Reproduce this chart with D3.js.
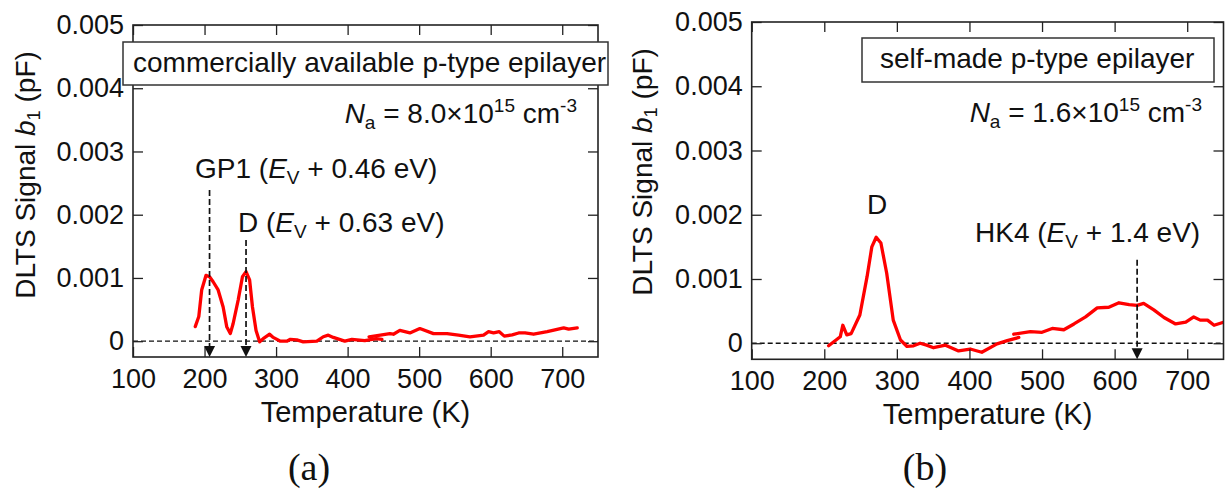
<!DOCTYPE html>
<html>
<head>
<meta charset="utf-8">
<script src="https://cdn.jsdelivr.net/npm/d3@7"></script>
<style>
  body { margin: 0; background: #fff; }
  svg text { font-family: "Liberation Sans", Arial, Helvetica, sans-serif; fill: #111; }
</style>
</head>
<body>
<svg id="fig" width="1227" height="491"></svg>
<script>
// ---- axis ticks ----
const tempTicks = [100, 200, 300, 400, 500, 600, 700];
const tempMinorTicks = d3.range(100, 751, 20);
const signalTicks = [0, 0.001, 0.002, 0.003, 0.004, 0.005];
const signalTickLabels = ["0", "0.001", "0.002", "0.003", "0.004", "0.005"];
const signalMinorTicks = [0, 0.0005, 0.001, 0.0015, 0.002, 0.0025, 0.003, 0.0035, 0.004, 0.0045, 0.005];

// ---- (a) commercially available p-type epilayer ----
// low-temperature sweep
const commLowT = [187, 192, 196, 202, 207, 212, 219, 226, 231, 236, 240, 247, 253, 258, 263, 267, 272, 277, 282, 291, 296, 306, 315, 320, 329, 338, 357, 366, 373, 380, 396, 406, 424, 440, 448];
const commLowS = [0.00023, 0.00039, 0.00081, 0.00104, 0.00102, 0.00094, 0.00081, 0.00054, 0.00023, 0.00012, 0.00028, 0.00065, 0.00102, 0.00110, 0.00097, 0.00054, 0.00017, -0.00001, 0.00004, 0.00011, 0.00006, 0.0, 0.0, 0.00003, 0.00002, -0.00001, 0.0, 0.00007, 0.000095, 0.00006, 0.0, 0.00003, 0.00001, 0.00004, 0.00003];
// high-temperature sweep
const commHighT = [430, 448, 459, 464, 473, 487, 501, 520, 539, 555, 571, 590, 597, 604, 612, 619, 630, 639, 648, 660, 679, 702, 709, 721];
const commHighS = [0.00007, 0.0001, 0.00012, 0.00011, 0.00017, 0.00013, 0.0002, 0.00012, 0.00012, 0.000095, 0.00007, 0.000095, 0.00015, 0.00013, 0.00015, 0.00008, 0.0001, 0.00013, 0.00013, 0.00011, 0.00015, 0.00021, 0.00019, 0.00021];

// ---- (b) self-made p-type epilayer ----
const selfLowT = [206, 222, 225.5, 231, 237, 249, 259, 265.5, 271.5, 278, 286, 295, 305, 314, 323, 332, 341, 350.5, 367, 385, 401, 417, 438, 452, 468];
const selfLowS = [-0.00004, 0.0001, 0.00028, 0.00013, 0.00015, 0.00044, 0.00104, 0.0015, 0.00165, 0.00156, 0.00109, 0.00036, 0.00005, -0.00005, -0.00004, 0.0, -0.00003, -0.00007, -0.00003, -0.00012, -0.00009, -0.00014, -0.00001, 0.00004, 0.00009];
const selfHighT = [461, 484, 500, 514, 530, 544, 560, 576, 592, 606, 620, 631, 640, 654, 668, 684, 698, 709, 718, 728, 737, 751];
const selfHighS = [0.00014, 0.00018, 0.00017, 0.00023, 0.00021, 0.0003, 0.00041, 0.00055, 0.00056, 0.00063, 0.0006, 0.00059, 0.00062, 0.00052, 0.0004, 0.0003, 0.00033, 0.00041, 0.00036, 0.00036, 0.00028, 0.00033];

// ---- trap markers: temperature and top of the dashed arrow (pF) ----
const commTrapT = [207, 258];
const commTrapTop = [0.00239, 0.0016];
const selfTrapT = [631];
const selfTrapTop = [0.0013];

const svg = d3.select("#fig");
const FS_TICK = 27;
const FS = 28;

function zip(ts, ss) { return ts.map((t, i) => ({ t, s: ss[i] })); }

function drawPanel(p) {
  const g = svg.append("g");
  const x = d3.scaleLinear().domain([100, 750]).range([p.left, p.right]);
  const y = d3.scaleLinear().domain([-0.00025, 0.005]).range([p.bottom, p.top]);

  const clipId = "clip-" + p.id;
  g.append("clipPath").attr("id", clipId)
    .append("rect").attr("x", p.left).attr("y", p.top)
    .attr("width", p.right - p.left).attr("height", p.bottom - p.top);

  // zero reference line
  g.append("line")
    .attr("x1", p.left).attr("x2", p.right)
    .attr("y1", y(0)).attr("y2", y(0))
    .attr("stroke", "#111").attr("stroke-width", 1.3)
    .attr("stroke-dasharray", "5,3");

  // DLTS curves
  const line = d3.line().x(d => x(d.t)).y(d => y(d.s));
  p.series.forEach(s => {
    g.append("path").datum(s)
      .attr("clip-path", `url(#${clipId})`)
      .attr("d", line)
      .attr("fill", "none").attr("stroke", "#ff0000")
      .attr("stroke-width", 3.3).attr("stroke-linejoin", "round").attr("stroke-linecap", "round");
  });

  // axes: ticks point inward on all four sides
  const axB = g.append("g").attr("transform", `translate(0,${p.bottom})`);
  axB.call(d3.axisBottom(x).tickValues(tempMinorTicks).tickFormat("").tickSizeInner(-5).tickSizeOuter(0));
  axB.call(d3.axisBottom(x).tickValues(tempTicks).tickSizeInner(-10).tickSizeOuter(0).tickPadding(12));
  const axT = g.append("g").attr("transform", `translate(0,${p.top})`);
  axT.call(d3.axisTop(x).tickValues(tempMinorTicks).tickFormat("").tickSizeInner(-5).tickSizeOuter(0));
  axT.call(d3.axisTop(x).tickValues(tempTicks).tickFormat("").tickSizeInner(-10).tickSizeOuter(0));
  const axL = g.append("g").attr("transform", `translate(${p.left},0)`);
  axL.call(d3.axisLeft(y).tickValues(signalMinorTicks).tickFormat("").tickSizeInner(-5).tickSizeOuter(0));
  axL.call(d3.axisLeft(y).tickValues(signalTicks).tickFormat((d, i) => signalTickLabels[i]).tickSizeInner(-10).tickSizeOuter(0).tickPadding(9));
  const axR = g.append("g").attr("transform", `translate(${p.right},0)`);
  axR.call(d3.axisRight(y).tickValues(signalMinorTicks).tickFormat("").tickSizeInner(-5).tickSizeOuter(0));
  axR.call(d3.axisRight(y).tickValues(signalTicks).tickFormat("").tickSizeInner(-10).tickSizeOuter(0));
  g.selectAll(".domain").remove();
  g.selectAll(".tick line").attr("stroke", "#222").attr("stroke-width", 1.3);
  g.selectAll(".tick text").attr("font-size", FS_TICK).attr("font-family", null).attr("fill", "#111");

  // frame
  g.append("rect")
    .attr("x", p.left).attr("y", p.top)
    .attr("width", p.right - p.left).attr("height", p.bottom - p.top)
    .attr("fill", "none").attr("stroke", "#222").attr("stroke-width", 1.6);

  // trap arrows
  p.traps.forEach(tr => {
    const xa = x(tr.t);
    g.append("line")
      .attr("x1", xa).attr("x2", xa)
      .attr("y1", y(tr.top)).attr("y2", p.bottom - 10)
      .attr("stroke", "#111").attr("stroke-width", 1.7)
      .attr("stroke-dasharray", "6,3");
    g.append("path")
      .attr("d", `M${xa - 5.5},${p.bottom - 11} L${xa + 5.5},${p.bottom - 11} L${xa},${p.bottom} Z`)
      .attr("fill", "#111");
  });

  // axis titles
  g.append("text")
    .attr("x", (p.left + p.right) / 2).attr("y", p.bottom + 65)
    .attr("text-anchor", "middle").attr("font-size", FS + 1)
    .text("Temperature (K)");
  const yt = g.append("text")
    .attr("transform", `translate(${p.yTitleX},${p.yTitleY}) rotate(-90)`)
    .attr("text-anchor", "middle").attr("font-size", FS);
  yt.append("tspan").text("DLTS Signal ");
  yt.append("tspan").attr("font-style", "italic").text("b");
  yt.append("tspan").attr("font-size", FS * 0.65).attr("dy", 5).text("1");
  yt.append("tspan").attr("dy", -5).text(" (pF)");

  // sample label box
  const bx = g.append("g");
  bx.append("rect")
    .attr("x", p.box[0]).attr("y", p.box[1])
    .attr("width", p.box[2]).attr("height", p.box[3])
    .attr("fill", "#fff").attr("stroke", "#333").attr("stroke-width", 1.5);
  bx.append("text")
    .attr("x", p.boxText[0]).attr("y", p.boxText[1])
    .attr("font-size", FS).text(p.boxLabel);

  // acceptor concentration
  const na = g.append("text")
    .attr("x", p.naPos[0]).attr("y", p.naPos[1])
    .attr("text-anchor", "end").attr("font-size", FS);
  na.append("tspan").attr("font-style", "italic").text("N");
  na.append("tspan").attr("font-size", FS * 0.68).attr("dy", 6).text("a");
  na.append("tspan").attr("dy", -6).text(` = ${p.naMant}×10`);
  na.append("tspan").attr("font-size", FS * 0.68).attr("dy", -11).text("15");
  na.append("tspan").attr("dy", 11).text(" cm");
  na.append("tspan").attr("font-size", FS * 0.68).attr("dy", -11).text("-3");

  // trap labels
  p.trapLabels.forEach(lb => {
    const t = g.append("text")
      .attr("x", lb.x).attr("y", lb.y)
      .attr("text-anchor", lb.anchor || "start").attr("font-size", FS);
    if (lb.energy) {
      t.append("tspan").text(lb.name + " (");
      t.append("tspan").attr("font-style", "italic").text("E");
      t.append("tspan").attr("font-size", FS * 0.68).attr("dy", 6).text("V");
      t.append("tspan").attr("dy", -6).text(` + ${lb.energy} eV)`);
    } else {
      t.text(lb.name);
    }
  });

  // panel tag
  svg.append("text")
    .attr("x", p.tag[0]).attr("y", p.tag[1])
    .attr("text-anchor", "middle")
    .attr("font-size", 38)
    .style("font-family", '"Liberation Serif", "DejaVu Serif", serif')
    .text(p.tagText);
}

drawPanel({
  id: "a", left: 133, right: 598, top: 25, bottom: 357,
  series: [zip(commLowT, commLowS), zip(commHighT, commHighS)],
  traps: commTrapT.map((t, i) => ({ t, top: commTrapTop[i] })),
  yTitleX: 35, yTitleY: 175,
  box: [123, 42, 485, 43], boxText: [133, 72], boxLabel: "commercially available p-type epilayer",
  naPos: [577, 123], naMant: "8.0",
  trapLabels: [
    { name: "GP1", energy: "0.46", x: 195, y: 178 },
    { name: "D", energy: "0.63", x: 238, y: 232 }
  ],
  tag: [309, 480], tagText: "(a)"
});

drawPanel({
  id: "b", left: 751.7, right: 1223.5, top: 22, bottom: 359.3,
  series: [zip(selfLowT, selfLowS), zip(selfHighT, selfHighS)],
  traps: selfTrapT.map((t, i) => ({ t, top: selfTrapTop[i] })),
  yTitleX: 652, yTitleY: 172,
  box: [862, 38, 352, 44], boxText: [880, 68], boxLabel: "self-made p-type epilayer",
  naPos: [1202, 122], naMant: "1.6",
  trapLabels: [
    { name: "D", x: 877, y: 214, anchor: "middle" },
    { name: "HK4", energy: "1.4", x: 975, y: 242 }
  ],
  tag: [925, 480], tagText: "(b)"
});
</script>
</body>
</html>
